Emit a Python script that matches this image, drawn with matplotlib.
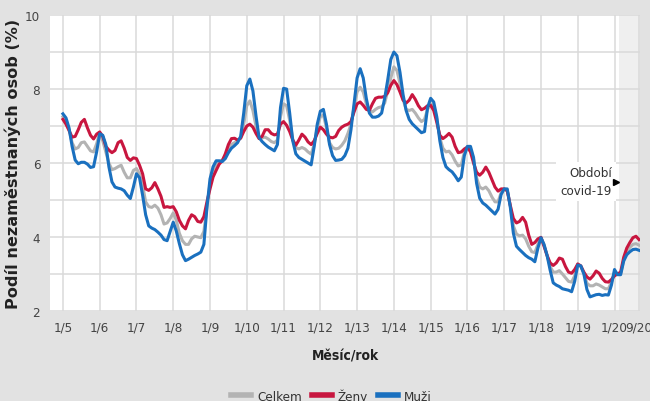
import matplotlib
matplotlib.use("Agg")
import matplotlib.pyplot as plt
import matplotlib.font_manager as fm
import numpy as np

# monthly values 1/2005 - 9/2020 (%)
celkem = [
    7.25, 7.10, 6.90, 6.55, 6.38, 6.42, 6.55, 6.57, 6.45, 6.33, 6.30, 6.52,  # 2005
    6.82, 6.60, 6.30, 6.00, 5.82, 5.85, 5.90, 5.94, 5.75, 5.60, 5.60, 5.80,  # 2006
    5.85, 5.70, 5.40, 4.95, 4.82, 4.80, 4.86, 4.78, 4.60, 4.35, 4.38, 4.50,  # 2007
    4.65, 4.45, 4.10, 3.90, 3.80, 3.80, 3.95, 4.02, 4.00, 3.98, 4.15, 4.80,  # 2008
    5.45, 5.78, 5.95, 6.03, 6.08, 6.20, 6.38, 6.50, 6.55, 6.60, 6.68, 7.05,  # 2009
    7.55, 7.68, 7.42, 7.00, 6.72, 6.68, 6.70, 6.65, 6.58, 6.55, 6.62, 7.25,  # 2010
    7.60, 7.55, 7.15, 6.65, 6.42, 6.38, 6.42, 6.38, 6.30, 6.24, 6.50, 6.95,  # 2011
    7.25, 7.30, 6.95, 6.55, 6.42, 6.38, 6.40, 6.48, 6.60, 6.80, 7.05, 7.50,  # 2012
    7.92, 8.05, 7.92, 7.60, 7.42, 7.38, 7.45, 7.50, 7.52, 7.62, 7.95, 8.30,  # 2013
    8.60, 8.50, 8.15, 7.72, 7.45, 7.42, 7.45, 7.35, 7.22, 7.12, 7.18, 7.45,  # 2014
    7.60, 7.55, 7.20, 6.68, 6.40, 6.30, 6.32, 6.22, 6.05, 5.92, 5.95, 6.30,  # 2015
    6.43, 6.38, 6.10, 5.60, 5.35, 5.30, 5.35, 5.25, 5.08, 4.95, 4.95, 5.20,  # 2016
    5.30, 5.25, 4.85, 4.30, 4.08, 4.03, 4.05, 3.95, 3.75, 3.60, 3.58, 3.80,  # 2017
    3.99, 3.78, 3.50, 3.20, 3.05, 3.05, 3.09, 3.00, 2.90, 2.80, 2.78, 2.95,  # 2018
    3.27, 3.20, 3.02, 2.75, 2.68, 2.68, 2.73, 2.70, 2.65, 2.60, 2.60, 2.78,  # 2019
    3.05, 3.00, 3.00, 3.38, 3.60, 3.72, 3.80, 3.82, 3.78,                    # 2020
]
zeny = [
    7.18, 7.05, 6.88, 6.70, 6.72, 6.90, 7.10, 7.18, 6.95, 6.75, 6.65, 6.78,
    6.84, 6.72, 6.45, 6.35, 6.28, 6.34, 6.55, 6.60, 6.40, 6.15, 6.07, 6.14,
    6.12, 5.94, 5.71, 5.30, 5.26, 5.33, 5.47, 5.30, 5.10, 4.80, 4.82, 4.80,
    4.82, 4.68, 4.45, 4.30, 4.22, 4.45, 4.60, 4.55, 4.42, 4.40, 4.55, 4.95,
    5.30, 5.62, 5.80, 5.97, 6.06, 6.25, 6.50, 6.66, 6.67, 6.62, 6.67, 6.85,
    7.00, 7.05, 6.97, 6.80, 6.66, 6.72, 6.90, 6.90, 6.80, 6.76, 6.78, 7.05,
    7.12, 7.02, 6.85, 6.62, 6.48, 6.62, 6.78, 6.70, 6.57, 6.50, 6.60, 6.80,
    6.97, 6.90, 6.78, 6.70, 6.68, 6.72, 6.88, 6.97, 7.02, 7.05, 7.12, 7.38,
    7.60, 7.65, 7.56, 7.45, 7.42, 7.60, 7.75, 7.78, 7.78, 7.80, 7.90, 8.10,
    8.23, 8.12, 7.92, 7.70, 7.62, 7.70, 7.85, 7.72, 7.55, 7.44, 7.48, 7.55,
    7.56, 7.42, 7.10, 6.75, 6.66, 6.72, 6.80, 6.70, 6.45, 6.28, 6.30, 6.38,
    6.43, 6.30, 6.00, 5.75, 5.67, 5.75, 5.89, 5.75, 5.55, 5.35, 5.24, 5.30,
    5.30, 5.25, 4.85, 4.50, 4.38, 4.42, 4.53, 4.40, 4.05, 3.80, 3.85, 3.95,
    3.99, 3.75, 3.50, 3.30, 3.23, 3.30, 3.43, 3.40, 3.20, 3.05, 3.02, 3.12,
    3.27, 3.22, 3.05, 2.92, 2.86, 2.95, 3.08, 3.02, 2.88, 2.79, 2.78, 2.85,
    2.95, 3.00, 3.05, 3.45, 3.70, 3.85, 3.98, 4.02, 3.93,
]
muzi = [
    7.33, 7.22, 6.95, 6.45, 6.08, 5.98, 6.02, 6.02, 5.97, 5.88, 5.90, 6.30,
    6.79, 6.75, 6.50, 5.90, 5.49, 5.35, 5.32, 5.30, 5.25, 5.13, 5.04, 5.35,
    5.71, 5.60, 5.13, 4.60, 4.30, 4.24, 4.20, 4.13, 4.05, 3.93, 3.90, 4.15,
    4.40, 4.16, 3.82, 3.52, 3.36, 3.40, 3.45, 3.50, 3.54, 3.59, 3.80, 4.80,
    5.57, 5.90, 6.06, 6.06, 6.04, 6.12, 6.28, 6.40, 6.47, 6.55, 6.72, 7.35,
    8.09, 8.27, 7.95, 7.28, 6.69, 6.58, 6.50, 6.43, 6.38, 6.33, 6.50, 7.50,
    8.02, 8.00, 7.35, 6.60, 6.25, 6.15, 6.10, 6.05, 6.00, 5.95, 6.45, 7.05,
    7.40, 7.45, 7.05, 6.50, 6.20, 6.07, 6.08, 6.10, 6.20, 6.40, 6.90, 7.60,
    8.30, 8.55, 8.30, 7.75, 7.35, 7.24, 7.24, 7.27, 7.35, 7.75, 8.25, 8.80,
    9.00, 8.90, 8.45, 7.85, 7.42, 7.18, 7.06, 6.98, 6.90, 6.82, 6.85, 7.50,
    7.75, 7.65, 7.25, 6.60, 6.15, 5.90, 5.82, 5.76, 5.65, 5.52, 5.62, 6.20,
    6.45, 6.45, 6.15, 5.45, 5.05, 4.92, 4.86, 4.78, 4.70, 4.62, 4.75, 5.15,
    5.30, 5.30, 4.80, 4.10, 3.75, 3.66, 3.58, 3.50, 3.44, 3.40, 3.33, 3.70,
    3.98, 3.80, 3.50, 3.10, 2.76, 2.70, 2.66, 2.60, 2.58, 2.56, 2.52, 2.80,
    3.24, 3.22, 3.00, 2.58, 2.38, 2.41, 2.44, 2.45, 2.42, 2.44, 2.43, 2.70,
    3.12, 2.98, 2.98, 3.35, 3.52, 3.60, 3.66, 3.67, 3.64,
]

tick_pos = list(range(2005, 2021)) + [2020 + 8 / 12]
tick_labels = ["1/%d" % (y - 2000) for y in range(2005, 2021)] + ["9/20"]
covid_start = 2020 + 1.4 / 12

t = 2005 + np.arange(len(celkem)) / 12


# look for a narrow font for the small texts, else fall back to Roboto
def find_narrow(bold):
    found = None
    for f in fm.fontManager.ttflist:
        if f.style != "normal":
            continue
        is_bold = f.weight in (700, "bold")
        is_reg = f.weight in (400, "normal", "regular")
        if (bold and not is_bold) or (not bold and not is_reg):
            continue
        if "Narrow" in f.name or "Condensed" in f.name or f.stretch in ("condensed", "semi-condensed"):
            if found is None or f.name.startswith("Liberation"):
                found = f.fname
    return found


narrow = find_narrow(False)
narrow_bold = find_narrow(True)
if narrow:
    small = fm.FontProperties(fname=narrow, size=9.6)
    note = fm.FontProperties(fname=narrow, size=9.5)
else:
    small = fm.FontProperties(family="Roboto", size=9)
    note = fm.FontProperties(family="Roboto", size=8.5)
if narrow_bold:
    xlab_font = fm.FontProperties(fname=narrow_bold, size=10)
else:
    xlab_font = fm.FontProperties(family="DejaVu Sans", weight="bold", size=8.5)

bg = "#e2e2e2"

fig = plt.figure(figsize=(6.5, 4.02), dpi=100, facecolor=bg)
ax = fig.add_axes([0.077, 0.224, 0.908, 0.736])
ax.set_facecolor("white")

ax.axvspan(covid_start, 2020.70, color="#efefef", lw=0, zorder=0)

ax.plot(t, celkem, color="#b3b3b3", lw=2.2, label="Celkem", zorder=3)
ax.plot(t, zeny, color="#c8163f", lw=2.2, label="Ženy", zorder=4)
ax.plot(t, muzi, color="#1a70bf", lw=2.2, label="Muži", zorder=5)

ax.set_xlim(2004.65, 2020.70)
ax.set_ylim(2, 10)
ax.set_yticks(range(2, 11))
ax.set_yticklabels([str(v) if v % 2 == 0 else "" for v in range(2, 11)])
ax.set_xticks(tick_pos)
ax.set_xticklabels(tick_labels)
for lab in ax.get_xticklabels() + ax.get_yticklabels():
    lab.set_fontproperties(small)
ax.grid(True, color="#dadada", lw=1.1, zorder=1)
ax.tick_params(length=0, colors="#444444", pad=7)
for s in ax.spines.values():
    s.set_visible(False)

ax.set_ylabel("Podíl nezaměstnaných osob (%)", family="DejaVu Sans",
              fontsize=11.6, fontweight="bold", color="#222222", labelpad=3)
ax.set_xlabel("Měsíc/rok", fontproperties=xlab_font, color="#222222", labelpad=11)

ax.text(2019.93, 5.5, "Období\ncovid-19", ha="right", va="center",
        fontproperties=note, color="#333333", linespacing=1.45,
        bbox=dict(facecolor="white", edgecolor="none", pad=3), zorder=6)
ax.plot([2020.05], [5.5], marker=">", color="black", ms=5, zorder=7)

leg = fig.legend(loc="center", bbox_to_anchor=(0.51, 0.013), ncol=3, frameon=False,
                 prop=small, handlelength=1.5, handletextpad=0.45, columnspacing=0.75,
                 labelcolor="#333333")
for h in leg.legend_handles:
    h.set_linewidth(4)

fig.savefig("out.png", dpi=100, facecolor=bg)
